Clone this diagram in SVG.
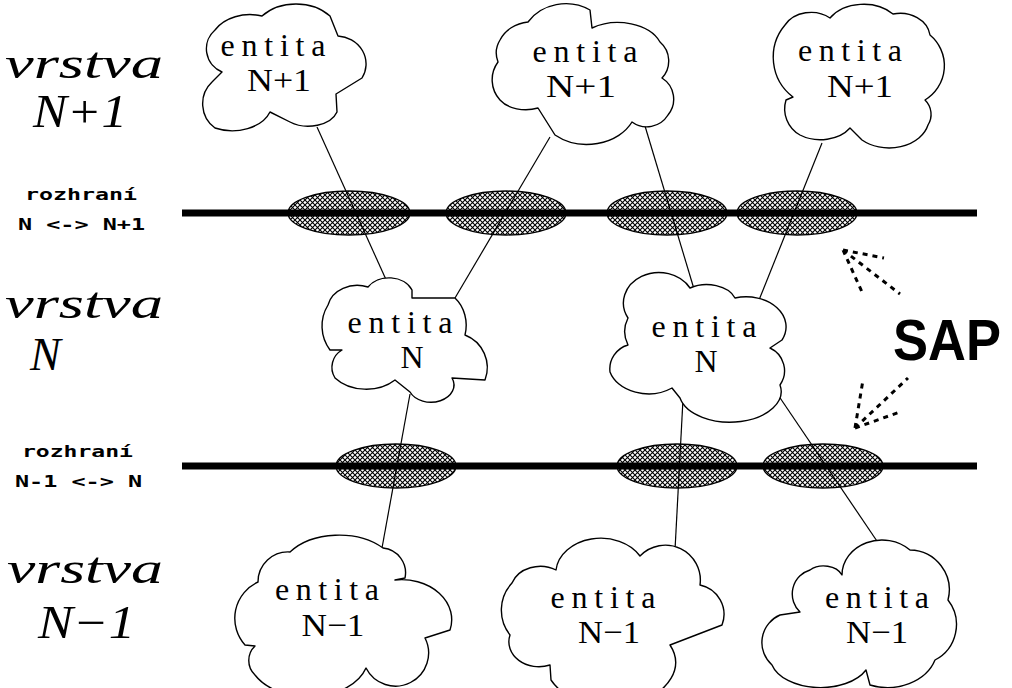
<svg xmlns="http://www.w3.org/2000/svg" width="1012" height="688" viewBox="0 0 1012 688">
<style>
.cloud{fill:#fff;stroke:#000;stroke-width:1.4;stroke-linejoin:round}
.ent{font-family:"Liberation Serif","DejaVu Serif",serif;font-size:32px;fill:#000;text-anchor:middle}
.layer{font-family:"Liberation Serif","DejaVu Serif",serif;font-style:italic;fill:#000}
.iface{font-family:"DejaVu Sans Mono","Liberation Mono",monospace;font-weight:bold;font-size:15px;fill:#000}
.bus{stroke:#000;stroke-width:7}
.sap{fill:url(#hatch);stroke:#000;stroke-width:1.3}
.conn{stroke:#000;stroke-width:1.2;fill:none}
.dash{stroke:#000;stroke-width:3;stroke-dasharray:5 5;fill:none}
</style>
<defs>
<pattern id="hatch" width="5" height="5" patternUnits="userSpaceOnUse">
<rect width="5" height="5" fill="#fff"/>
<path d="M0,0 L5,5 M5,0 L0,5" stroke="#000" stroke-width="1.1"/>
</pattern>
</defs>
<rect width="1012" height="688" fill="#fff"/>

<g id="layer-labels">
<text class="layer" x="5" y="78" font-size="44" textLength="158" lengthAdjust="spacingAndGlyphs">vrstva</text>
<text class="layer" x="33" y="127" font-size="46" textLength="94" lengthAdjust="spacingAndGlyphs">N+1</text>
<text class="layer" x="5" y="318" font-size="44" textLength="158" lengthAdjust="spacingAndGlyphs">vrstva</text>
<text class="layer" x="30" y="370" font-size="46">N</text>
<text class="layer" x="7" y="583" font-size="44" textLength="156" lengthAdjust="spacingAndGlyphs">vrstva</text>
<text class="layer" x="38" y="638" font-size="46" textLength="97" lengthAdjust="spacingAndGlyphs">N−1</text>
</g>

<g id="iface-labels">
<text class="iface" x="25" y="200" textLength="112" lengthAdjust="spacingAndGlyphs">rozhraní</text>
<text class="iface" x="18" y="230" textLength="127" lengthAdjust="spacingAndGlyphs">N &lt;-&gt; N+1</text>
<text class="iface" x="22" y="457" textLength="111" lengthAdjust="spacingAndGlyphs">rozhraní</text>
<text class="iface" x="15" y="487" textLength="127" lengthAdjust="spacingAndGlyphs">N-1 &lt;-&gt; N</text>
</g>

<g id="saps">
<ellipse class="sap" cx="349" cy="213" rx="61" ry="22"/>
<ellipse class="sap" cx="506" cy="213" rx="60" ry="22"/>
<ellipse class="sap" cx="667" cy="213" rx="60" ry="22"/>
<ellipse class="sap" cx="797" cy="213" rx="60" ry="22"/>
<ellipse class="sap" cx="396" cy="466" rx="60" ry="22"/>
<ellipse class="sap" cx="677" cy="466" rx="60" ry="22"/>
<ellipse class="sap" cx="823" cy="466" rx="60" ry="22"/>
</g>

<g id="interfaces">
<line class="bus" x1="182" y1="213" x2="977" y2="213"/>
<line class="bus" x1="182" y1="466" x2="977" y2="466"/>
</g>

<g id="connectors">
<line class="conn" x1="317" y1="127" x2="388" y2="284"/>
<line class="conn" x1="550" y1="137" x2="455" y2="298"/>
<line class="conn" x1="645" y1="126" x2="694" y2="289"/>
<line class="conn" x1="822" y1="143" x2="757" y2="305"/>
<line class="conn" x1="410" y1="394" x2="382" y2="548"/>
<line class="conn" x1="683" y1="399" x2="675" y2="550"/>
<line class="conn" x1="772" y1="386" x2="883" y2="550"/>
</g>

<g id="sap-label">
<text x="893" y="360" font-family="'Liberation Sans',Arial,sans-serif" font-weight="bold" font-size="58" textLength="108" lengthAdjust="spacingAndGlyphs">SAP</text>
<path class="dash" d="M843,250 L884,258 M843,250 L900,294 M843,250 L862,292"/>
<path class="dash" d="M855,428 L863,380 M855,428 L908,378 M855,428 L900,412"/>
</g>

<g id="e-n1-a">
<path class="cloud" d="M215,30 A40,30 0 0 1 262,16 A45,35 0 0 1 330,16 L338,36 A30,28 0 0 1 362,78 L336,94 L337,112 A30,20 0 0 1 290,122 L270,112 A40,28 0 0 1 215,128 A30,30 0 0 1 212,82 L222,72 A25,25 0 0 1 215,30 Z"/>
<text class="ent" x="273" y="56" textLength="105" lengthAdjust="spacing">entita</text>
<text class="ent" x="279" y="91" textLength="64" lengthAdjust="spacingAndGlyphs">N+1</text>
</g>

<g id="e-n1-b">
<path class="cloud" d="M500,40 A35,30 0 0 1 528,22 A45,40 0 0 1 590,10 L592,28 A45,30 0 0 1 660,42 A25,25 0 0 1 662,78 A25,25 0 0 1 668,115 A25,25 0 0 1 632,122 A50,40 0 0 1 555,135 L538,108 A30,20 0 0 1 500,100 A30,30 0 0 1 498,62 A25,25 0 0 1 500,40 Z"/>
<text class="ent" x="585" y="62" textLength="105" lengthAdjust="spacing">entita</text>
<text class="ent" x="581" y="97" textLength="70" lengthAdjust="spacingAndGlyphs">N+1</text>
</g>

<g id="e-n1-c">
<path class="cloud" d="M785,25 A30,25 0 0 1 830,18 A40,30 0 0 1 893,14 A30,25 0 0 1 930,35 A40,40 0 0 1 925,100 A20,20 0 0 1 928,125 A40,30 0 0 1 862,140 L850,128 A35,25 0 0 1 800,135 A30,30 0 0 1 786,100 L793,97 A50,50 0 0 1 785,25 Z"/>
<text class="ent" x="850" y="61" textLength="104" lengthAdjust="spacing">entita</text>
<text class="ent" x="860" y="97" textLength="66" lengthAdjust="spacingAndGlyphs">N+1</text>
</g>

<g id="e-n-a">
<path class="cloud" d="M328,305 A30,25 0 0 1 368,287 A25,20 0 0 1 412,290 L412,298 L455,298 A30,35 0 0 1 465,335 A35,35 0 0 1 485,380 L452,378 A20,15 0 0 1 410,392 L395,380 A40,30 0 0 1 335,378 A20,20 0 0 1 342,350 L330,350 A40,40 0 0 1 328,305 Z"/>
<text class="ent" x="400" y="333" textLength="105" lengthAdjust="spacing">entita</text>
<text class="ent" x="412" y="368">N</text>
</g>

<g id="e-n-b">
<path class="cloud" d="M628,318 A35,30 0 0 1 690,288 A30,20 0 0 1 735,298 A40,30 0 0 1 782,340 L770,348 A25,25 0 0 1 780,385 A50,30 0 0 1 680,398 L672,388 A40,30 0 0 1 610,372 A25,25 0 0 1 628,345 A30,30 0 0 1 628,318 Z"/>
<text class="ent" x="704" y="337" textLength="105" lengthAdjust="spacing">entita</text>
<text class="ent" x="706" y="372">N</text>
</g>

<g id="e-nm1-a">
<path class="cloud" d="M258,582 A30,30 0 0 1 290,552 A60,40 0 0 1 383,548 A25,25 0 0 1 405,578 L395,580 A50,40 0 0 1 450,630 L425,638 A30,30 0 0 1 366,668 A60,40 0 0 1 255,675 A20,20 0 0 1 255,646 L245,645 A40,40 0 0 1 258,582 Z"/>
<text class="ent" x="327" y="600" textLength="104" lengthAdjust="spacing">entita</text>
<text class="ent" x="333" y="636" textLength="63" lengthAdjust="spacingAndGlyphs">N−1</text>
</g>

<g id="e-nm1-b">
<path class="cloud" d="M512,583 A30,25 0 0 1 556,570 A45,35 0 0 1 640,556 A35,35 0 0 1 700,585 A30,30 0 0 1 722,625 L670,645 A60,40 0 0 1 551,680 L550,665 A30,25 0 0 1 510,635 A40,40 0 0 1 512,583 Z"/>
<text class="ent" x="603" y="608" textLength="105" lengthAdjust="spacing">entita</text>
<text class="ent" x="609" y="643" textLength="62" lengthAdjust="spacingAndGlyphs">N−1</text>
</g>

<g id="e-nm1-c">
<path class="cloud" d="M800,612 A25,25 0 0 1 810,570 A20,15 0 0 1 842,575 A40,35 0 0 1 910,550 A40,40 0 0 1 948,600 A40,40 0 0 1 935,660 A50,40 0 0 1 870,685 L866,670 A50,30 0 0 1 772,665 A30,30 0 0 1 780,615 Z"/>
<text class="ent" x="877" y="608" textLength="104" lengthAdjust="spacing">entita</text>
<text class="ent" x="877" y="643" textLength="62" lengthAdjust="spacingAndGlyphs">N−1</text>
</g>
</svg>
